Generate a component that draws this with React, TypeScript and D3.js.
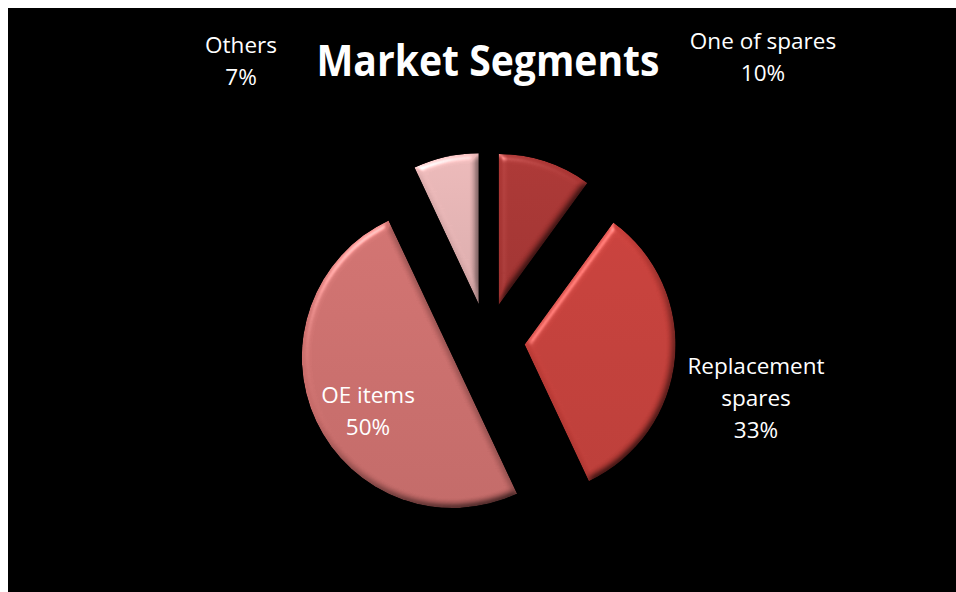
import React from "react";
import * as d3 from "d3";

// Market segment shares (percent), drawn clockwise from 12 o'clock
const categoryLines: string[][] = [
  ["One of spares"],
  ["Replacement", "spares"],
  ["OE items"],
  ["Others"],
];
const categories = categoryLines.map((l) => l.join(" "));
const shares = [10, 33, 50, 7];
const sliceColors = ["#aa3634", "#c8403b", "#d0716f", "#e9b7b7"];

const chartTitle = "Market Segments";

// Layout
const W = 1000;
const H = 620;
const CX = 479;
const CY = 333;
const RADIUS = 151;
const EXPLODE = 0.25; // fraction of radius
const LINE_H = 32;
// Label anchors (centre x, first baseline) per slice
const labelAnchors: [number, number][] = [
  [755, 41],
  [748, 366],
  [360, 395],
  [233, 45],
];

type Datum = { name: string; lines: string[]; value: number; color: string };

const data: Datum[] = categories.map((name, i) => ({
  name,
  lines: categoryLines[i],
  value: shares[i],
  color: sliceColors[i],
}));

export default function App() {
  const total = d3.sum(shares);
  const pie = d3
    .pie<Datum>()
    .sort(null)
    .value((d) => d.value)
    .startAngle(0)
    .endAngle(2 * Math.PI);
  const arcs = pie(data);
  const arc = d3.arc<d3.PieArcDatum<Datum>>().innerRadius(0).outerRadius(RADIUS);

  const offset = (a: d3.PieArcDatum<Datum>) => {
    const mid = (a.startAngle + a.endAngle) / 2;
    const d = RADIUS * EXPLODE;
    return [Math.sin(mid) * d, -Math.cos(mid) * d];
  };

  const shade = (c: string, k: number) =>
    k >= 0 ? d3.color(c)!.brighter(k).formatHex() : d3.color(c)!.darker(-k).formatHex();

  return (
    <>
      <style>{`html,body{overflow:hidden;} html{background:#000;}`}</style>
      {/* white page margin along the top and left edges */}
      <div style={{ position: "fixed", left: 0, top: 0, width: 8, height: "100vh", background: "#fff", zIndex: 2 }} />
      <div style={{ position: "fixed", left: 0, top: 0, width: "100vw", height: 8, background: "#fff", zIndex: 2 }} />
      <svg
        width={W}
        height={H}
        style={{ display: "block", position: "fixed", left: 8, top: 8 }}
      >
        <defs>
          <filter
            id="bevel"
            x="-10%"
            y="-10%"
            width="120%"
            height="120%"
            colorInterpolationFilters="sRGB"
          >
            <feGaussianBlur in="SourceAlpha" stdDeviation="3.5" result="blur" />
            <feDiffuseLighting
              in="blur"
              surfaceScale="2.6"
              diffuseConstant="1.38"
              lightingColor="#ffffff"
              result="diff"
            >
              <feDistantLight azimuth="235" elevation="46" />
            </feDiffuseLighting>
            <feComposite in="SourceGraphic" in2="diff" operator="arithmetic" k1="1" k2="0" k3="0" k4="0" result="lit" />
            <feSpecularLighting
              in="blur"
              surfaceScale="3"
              specularConstant="0.7"
              specularExponent="40"
              lightingColor="#ffffff"
              result="spec"
            >
              <feDistantLight azimuth="235" elevation="46" />
            </feSpecularLighting>
            <feComposite in="spec" in2="SourceAlpha" operator="in" result="specIn" />
            <feComposite in="lit" in2="specIn" operator="arithmetic" k1="0" k2="1" k3="0.45" k4="0" result="out" />
            <feComposite in="out" in2="SourceAlpha" operator="in" />
          </filter>
          {arcs.map((a, i) => (
            <linearGradient key={i} id={`g${i}`} x1="0" y1="0" x2="0" y2="1">
              <stop offset="0%" stopColor={shade(a.data.color, 0.02)} />
              <stop offset="100%" stopColor={shade(a.data.color, -0.2)} />
            </linearGradient>
          ))}
        </defs>
        <rect x={0} y={0} width={W} height={H} fill="#000" />

        <g transform={`translate(${CX},${CY})`}>
          {arcs.map((a, i) => {
            const [dx, dy] = offset(a);
            return (
              <path
                key={a.data.name}
                d={arc(a) ?? ""}
                transform={`translate(${dx},${dy})`}
                fill={`url(#g${i})`}
                filter="url(#bevel)"
              />
            );
          })}
        </g>

        <text
          x={480}
          y={68}
          textAnchor="middle"
          fontFamily="'Open Sans', sans-serif"
          fontWeight="bold"
          fontSize={43}
          fill="#fff"
          textLength={343}
          lengthAdjust="spacingAndGlyphs"
        >
          {chartTitle}
        </text>

        {arcs.map((a, i) => {
          const [lx, ly] = labelAnchors[i];
          const pct = `${Math.round((a.data.value / total) * 100)}%`;
          const lines = [...a.data.lines, pct];
          return (
            <text
              key={`l${i}`}
              textAnchor="middle"
              fontFamily="'Open Sans', sans-serif"
              fontSize={22.5}
              fill="#fff"
            >
              {lines.map((t, j) => (
                <tspan key={j} x={lx} y={ly + j * LINE_H}>
                  {t}
                </tspan>
              ))}
            </text>
          );
        })}
      </svg>
    </>
  );
}
